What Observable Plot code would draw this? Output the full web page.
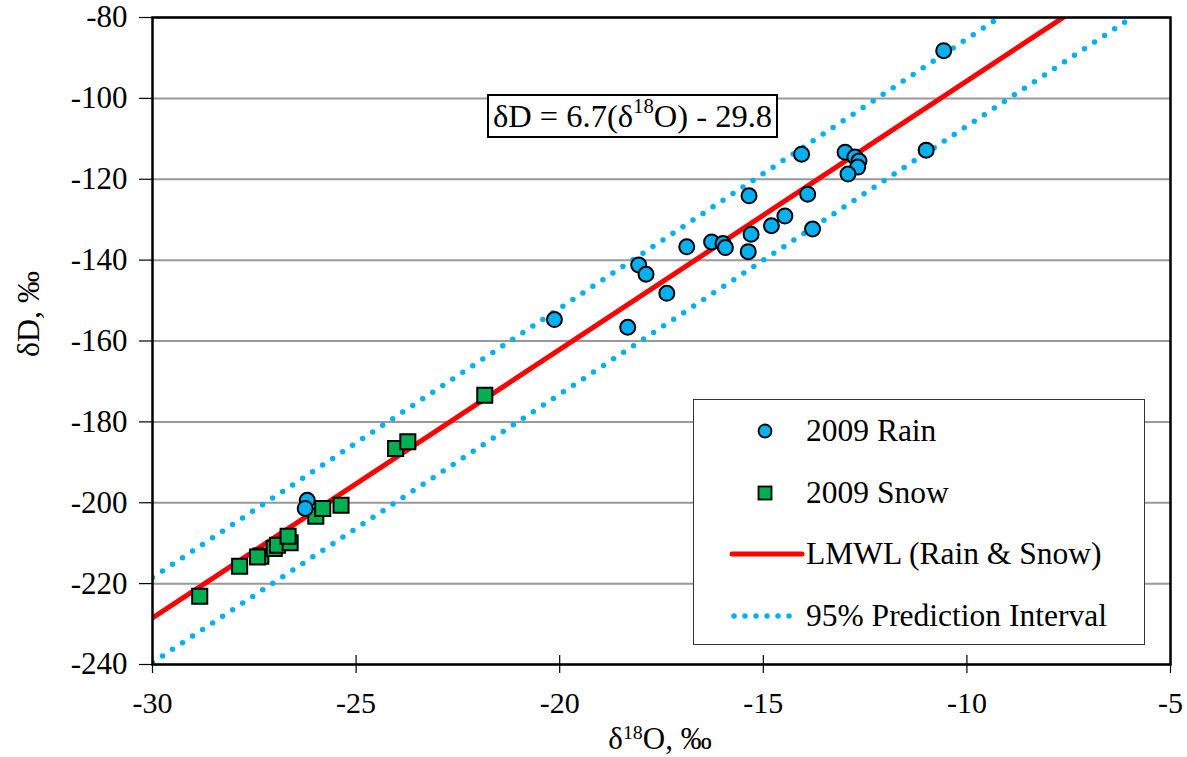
<!DOCTYPE html>
<html>
<head>
<meta charset="utf-8">
<script src="https://cdn.jsdelivr.net/npm/d3@7"></script>
<script src="https://cdn.jsdelivr.net/npm/@observablehq/plot@0.6"></script>
<style>
  html, body { margin: 0; padding: 0; background: white; }
  #wrap { position: relative; width: 1187px; height: 757px; font-family: "Liberation Serif", "Times New Roman", serif; color: black; }
  #wrap svg { display: block; }
  .ov { position: absolute; white-space: nowrap; line-height: 1; }
  sup { font-size: 0.64em; vertical-align: 0; position: relative; top: -0.48em; }
  #eq { left: 487px; top: 94px; width: 287px; height: 40px; border: 2px solid black; background: white; font-size: 32.5px; display: flex; align-items: center; justify-content: center; }
  #legend { left: 693px; top: 399px; width: 450px; height: 244px; border: 1.5px solid #333; background: white; }
  .lrow { position: absolute; left: 0; height: 40px; display: flex; align-items: center; font-size: 31.5px; }
  .lrow svg { width: 112px; height: 40px; }
  #ylab { left: 28px; top: 314px; font-size: 32px; transform: translate(-50%, -50%) rotate(-90deg); }
  #xlab { left: 660px; top: 723px; font-size: 31px; transform: translateX(-50%); }
</style>
</head>
<body>
<div id="wrap"></div>
<script>
// ---- data ----
const xTicks = [-30, -25, -20, -15, -10, -5];
const yTicks = [-240, -220, -200, -180, -160, -140, -120, -100, -80];

const rainX = [-10.57, -11.00, -14.06, -12.99, -12.75, -12.65, -12.68, -12.92, -15.35, -13.91,
               -14.47, -14.80, -13.79, -15.30, -16.27, -15.99, -15.93, -15.37, -16.88, -18.06,
               -17.88, -17.37, -20.13, -18.33, -26.20, -26.25];
const rainY = [-88.2, -112.8, -113.8, -113.3, -114.5, -115.5, -117.0, -118.7, -124.1, -123.7,
               -129.1, -131.5, -132.3, -133.6, -135.5, -135.9, -136.9, -137.9, -136.7, -141.2,
               -143.5, -148.2, -154.7, -156.6, -199.4, -201.4];

const snowX = [-28.84, -27.86, -27.34, -27.42, -27.01, -26.93, -26.62, -26.67, -25.99, -25.82,
               -25.37, -24.03, -23.73, -21.84];
const snowY = [-223.1, -215.7, -213.2, -213.4, -211.3, -210.5, -209.9, -208.3, -203.3, -201.4,
               -200.6, -186.6, -184.9, -173.4];

// LMWL and 95% prediction interval, end values at x = -30 and x = -5
const lineX = [-30, -5];
const lmwlY = [-228.5, -62.5];
const piUpperY = [-218.5, -52.0];
const piLowerY = [-239.5, -73.7];

// ---- build ----
const rain = rainX.map((x, i) => ({x, y: rainY[i]}));
const snow = snowX.map((x, i) => ({x, y: snowY[i]}));
const lmwl = lineX.map((x, i) => ({x, y: lmwlY[i]}));
const piU = lineX.map((x, i) => ({x, y: piUpperY[i]}));
const piL = lineX.map((x, i) => ({x, y: piLowerY[i]}));

const BLUE = "#00b0f0", GREEN = "#00b050", RED = "#ff0000";

const chart = Plot.plot({
  width: 1187,
  height: 757,
  marginLeft: 152,
  marginRight: 17,
  marginTop: 17,
  marginBottom: 93,
  style: {fontFamily: "'Liberation Serif', 'Times New Roman', serif", fontSize: "30px", color: "black", background: "white", overflow: "visible"},
  x: {domain: [-30, -5], label: null},
  y: {domain: [-240, -80], label: null},
  marks: [
    Plot.gridY(yTicks, {stroke: "#999999", strokeOpacity: 1, strokeWidth: 2}),
    Plot.line(piU, {x: "x", y: "y", stroke: BLUE, strokeWidth: 5.5, strokeDasharray: "0 12", strokeLinecap: "round", clip: true}),
    Plot.line(piL, {x: "x", y: "y", stroke: BLUE, strokeWidth: 5.5, strokeDasharray: "0 12", strokeLinecap: "round", clip: true}),
    Plot.line(lmwl, {x: "x", y: "y", stroke: RED, strokeWidth: 5, clip: true}),
    Plot.dot(snow, {x: "x", y: "y", symbol: "square", r: 8.5, fill: GREEN, stroke: "black", strokeWidth: 2}),
    Plot.dot(rain, {x: "x", y: "y", symbol: "circle", r: 7.5, fill: BLUE, stroke: "black", strokeWidth: 2}),
    Plot.frame({stroke: "black", strokeWidth: 2.5}),
    Plot.axisX({ticks: xTicks, tickSize: 18, dy: -9, tickFormat: () => "", stroke: "black", strokeWidth: 1.2}),
    Plot.axisX({ticks: xTicks, tickSize: 0, tickPadding: 27, tickFormat: d => String(d), fontSize: 30}),
    Plot.axisY({ticks: yTicks, tickSize: 13, tickPadding: 12, tickFormat: d => String(d), fontSize: 31, strokeWidth: 1.2})
  ]
});

const wrap = document.getElementById("wrap");
wrap.appendChild(chart);

function addDiv(id, cls, html) {
  const d = document.createElement("div");
  if (id) d.id = id;
  d.className = cls;
  d.innerHTML = html;
  wrap.appendChild(d);
  return d;
}

addDiv("eq", "ov", "&delta;D = 6.7(&delta;<sup>18</sup>O) - 29.8");
addDiv("ylab", "ov", "&delta;D, &permil;");
addDiv("xlab", "ov", "&delta;<sup>18</sup>O, &permil;");

const legend = addDiv("legend", "ov", "");
const items = [
  {label: "2009 Rain", sym: `<circle cx="71" cy="20" r="6.5" fill="${BLUE}" stroke="black" stroke-width="1.8"/>`},
  {label: "2009 Snow", sym: `<rect x="64.5" y="13.5" width="13" height="13" fill="${GREEN}" stroke="black" stroke-width="1.8"/>`},
  {label: "LMWL (Rain &amp; Snow)", sym: `<line x1="38" y1="20" x2="108" y2="20" stroke="${RED}" stroke-width="5" stroke-linecap="round"/>`},
  {label: "95% Prediction Interval", sym: `<line x1="40" y1="20" x2="106" y2="20" stroke="${BLUE}" stroke-width="5.5" stroke-dasharray="0 11" stroke-linecap="round"/>`}
];
const rowCenters = [31, 93, 154, 216];
items.forEach((it, i) => {
  const r = document.createElement("div");
  r.className = "lrow";
  r.style.top = (rowCenters[i] - 20) + "px";
  r.innerHTML = `<svg viewBox="0 0 112 40">${it.sym}</svg><span>${it.label}</span>`;
  legend.appendChild(r);
});
</script>
</body>
</html>
